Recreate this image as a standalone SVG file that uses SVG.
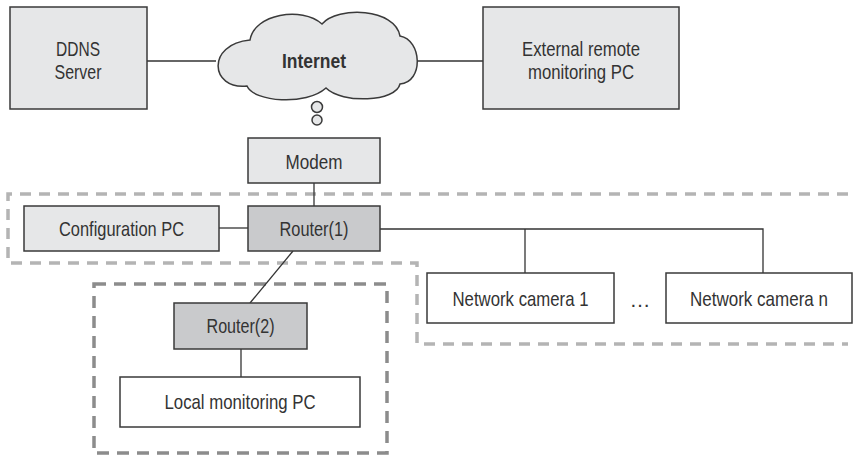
<svg xmlns="http://www.w3.org/2000/svg" width="855" height="457" viewBox="0 0 855 457">
<style>
.box{fill:#e6e7e8;stroke:#3a3a3a;stroke-width:1.5}
.rt{fill:#c9cacc;stroke:#3a3a3a;stroke-width:1.5}
.wh{fill:#ffffff;stroke:#3a3a3a;stroke-width:1.5}
.t{font-family:"Liberation Sans",Arial,sans-serif;font-size:21px;fill:#333;text-anchor:middle}
.b{font-weight:bold}
.ln{stroke:#333;stroke-width:1.3;fill:none}
.d1{fill:none;stroke:#b4b4b4;stroke-width:3.5;stroke-dasharray:11 8}
.d2{fill:none;stroke:#8c8c8c;stroke-width:3.5;stroke-dasharray:12 8}
</style>
<rect width="855" height="457" fill="#ffffff"/>
<g id="regions">
<path class="d1" d="M848,194 H8 V263 H417 V344 H848"/>
<rect class="d2" x="94" y="284" width="293" height="169"/>
</g>
<g id="connectors">
<line class="ln" x1="147" y1="61" x2="216" y2="61"/>
<line class="ln" x1="417" y1="61" x2="483" y2="61"/>
<line class="ln" x1="314" y1="183" x2="314" y2="206"/>
<line class="ln" x1="219" y1="228" x2="248" y2="228"/>
<polyline class="ln" points="380,229 763,229 763,273"/>
<line class="ln" x1="525" y1="229" x2="525" y2="273"/>
<line class="ln" x1="293" y1="251" x2="250" y2="303"/>
<line class="ln" x1="241" y1="349" x2="241" y2="377"/>
</g>
<g id="ddns">
<rect class="box" x="10" y="7" width="137" height="102"/>
<text class="t" x="78" y="56" textLength="44" lengthAdjust="spacingAndGlyphs">DDNS</text>
<text class="t" x="78" y="79" textLength="47" lengthAdjust="spacingAndGlyphs">Server</text>
</g>
<g id="internet">
<path class="box" d="M250,40 C254,14 302,6 322,24 C338,6 395,8 400,36 C422,40 424,82 400,84 C396,102 342,104 326,88 C306,106 254,102 247,86 C210,90 206,44 250,40 Z"/>
<circle class="box" cx="317" cy="107" r="5.5"/>
<circle class="box" cx="317" cy="120" r="5"/>
<text class="t b" x="314" y="68" textLength="64" lengthAdjust="spacingAndGlyphs">Internet</text>
</g>
<g id="external">
<rect class="box" x="483" y="7" width="196" height="102"/>
<text class="t" x="581" y="56" textLength="118" lengthAdjust="spacingAndGlyphs">External remote</text>
<text class="t" x="581" y="79" textLength="106" lengthAdjust="spacingAndGlyphs">monitoring PC</text>
</g>
<g id="modem">
<rect class="box" x="248" y="138" width="132" height="45"/>
<text class="t" x="314" y="169" textLength="57" lengthAdjust="spacingAndGlyphs">Modem</text>
</g>
<g id="config">
<rect class="box" x="24" y="206" width="195" height="45"/>
<text class="t" x="121.5" y="236" textLength="125" lengthAdjust="spacingAndGlyphs">Configuration PC</text>
</g>
<g id="router1">
<rect class="rt" x="248" y="206" width="132" height="45"/>
<text class="t" x="314" y="236" textLength="69" lengthAdjust="spacingAndGlyphs">Router(1)</text>
</g>
<g id="camera1">
<rect class="wh" x="427" y="273" width="187" height="50"/>
<text class="t" x="520.5" y="306" textLength="136" lengthAdjust="spacingAndGlyphs">Network camera 1</text>
</g>
<g id="ellipsis">
<text class="t" x="640" y="307">…</text>
</g>
<g id="cameran">
<rect class="wh" x="666" y="273" width="186" height="50"/>
<text class="t" x="759" y="306" textLength="138" lengthAdjust="spacingAndGlyphs">Network camera n</text>
</g>
<g id="router2">
<rect class="rt" x="174" y="303" width="133" height="46"/>
<text class="t" x="240.5" y="333" textLength="68" lengthAdjust="spacingAndGlyphs">Router(2)</text>
</g>
<g id="local">
<rect class="wh" x="120" y="377" width="240" height="50"/>
<text class="t" x="240" y="409" textLength="151" lengthAdjust="spacingAndGlyphs">Local monitoring PC</text>
</g>
</svg>
